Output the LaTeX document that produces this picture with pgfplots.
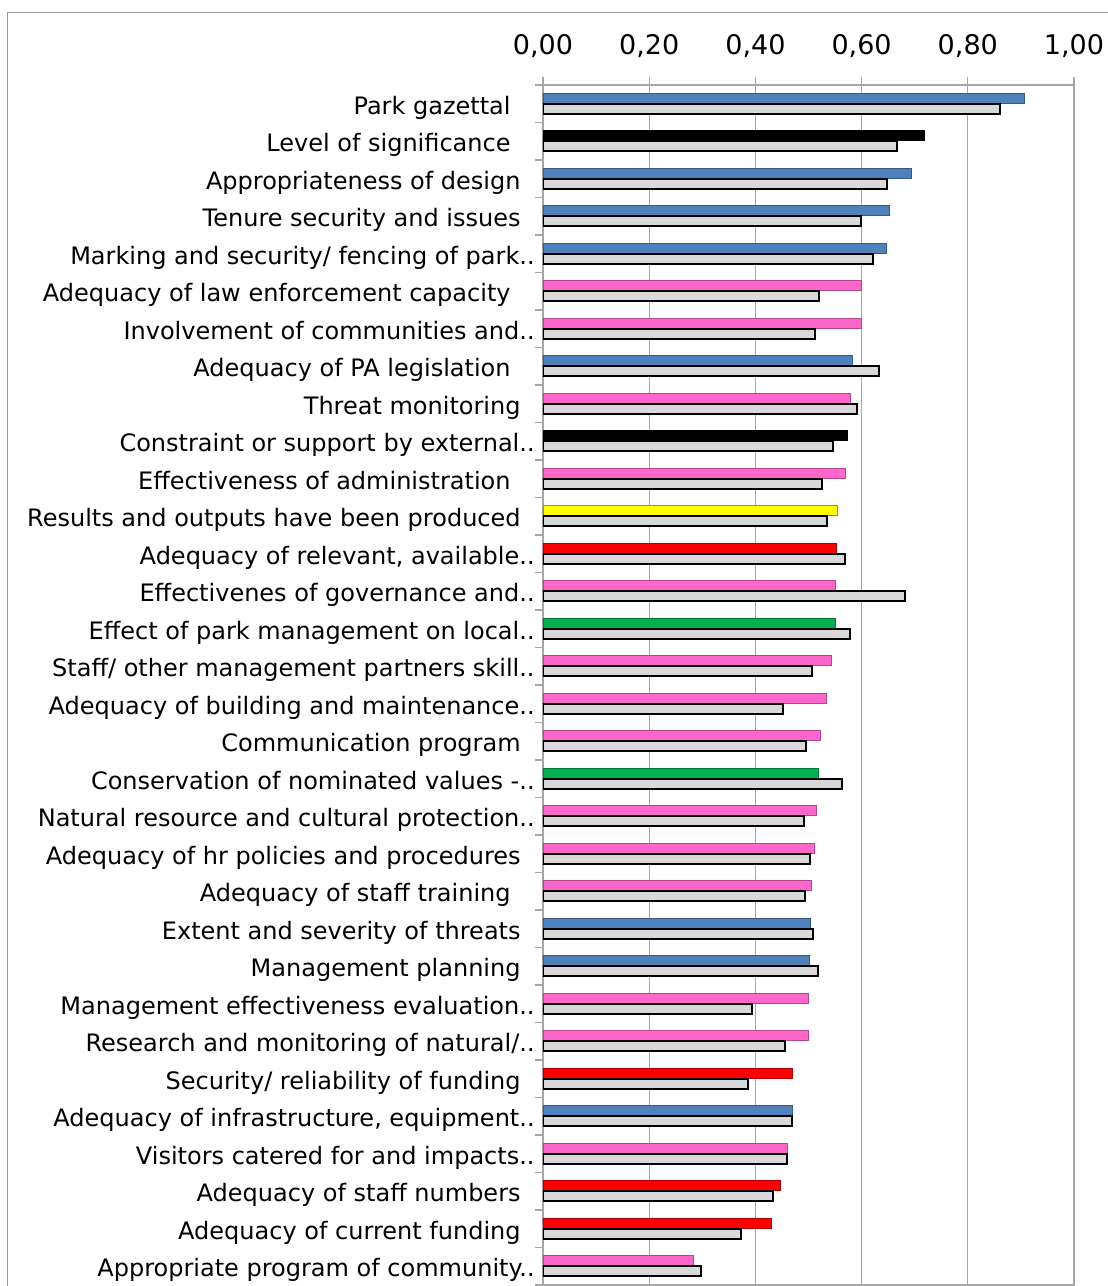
\documentclass[border=0pt]{standalone}
\usepackage{fontspec}
\setmainfont{DejaVu Sans}
\usepackage{pgfplots}
\pgfplotsset{compat=1.18}
\definecolor{cblue}{HTML}{4F81BD}
\definecolor{cpink}{HTML}{FF66CC}
\definecolor{cred}{HTML}{FF0000}
\definecolor{cyellow}{HTML}{FFFF00}
\definecolor{cgreen}{HTML}{00B050}
\definecolor{cgrayfill}{HTML}{D9D9D9}
\definecolor{gridc}{HTML}{A6A6A6}
\newcommand\pa{\rule{7pt}{0pt}}
\newcommand\pb{\rule{12pt}{0pt}}
\begin{document}
\begin{tikzpicture}
\path[use as bounding box] (0,0) rectangle (554pt,-643pt);
\draw[color=gray!80, line width=0.8pt] (3.65pt,-660pt) -- (3.65pt,-6.25pt) -- (570pt,-6.25pt);
\begin{axis}[
  at={(271.5pt,-42.5pt)}, anchor=north west,
  scale only axis, width=265.5pt, height=600pt,
  xbar, bar width=5pt,
  xmin=0, xmax=1, ymin=-0.5, ymax=31.5, y dir=reverse,
  xtick={0,0.2,0.4,0.6,0.8,1},
  xtick pos=upper, xticklabel pos=upper,
  ytick pos=left,
  tick align=outside,
  major tick length=4pt, minor tick length=4pt,
  xmajorgrids,
  major x grid style={gridc, line width=0.6pt},
  x tick style={gridc, line width=0.6pt},
  major y tick style={draw=none},
  minor y tick style={gridc, line width=0.6pt},
  axis line style={gridc, line width=0.6pt},
  ytick={0,...,31},
  minor ytick={-0.5,0.5,...,31.5},
  yticklabels={
    Park gazettal\pb,
    Level of significance\pb,
    Appropriateness of design\pa,
    Tenure security and issues\pa,
    Marking and security/ fencing of park..,
    Adequacy of law enforcement capacity\pb,
    Involvement of communities and..,
    Adequacy of PA legislation\pb,
    Threat monitoring\pa,
    Constraint or support by external..,
    Effectiveness of administration\pb,
    Results and outputs have been produced\pa,
    {Adequacy of relevant, available..},
    Effectivenes of governance and..,
    Effect of park management on local..,
    Staff/ other management partners skill..,
    Adequacy of building and maintenance..,
    Communication program\pa,
    Conservation of nominated values -..,
    Natural resource and cultural protection..,
    Adequacy of hr policies and procedures\pa,
    Adequacy of staff training\pb,
    Extent and severity of threats\pa,
    Management planning\pa,
    Management effectiveness evaluation..,
    Research and monitoring of natural/..,
    Security/ reliability of funding\pa,
    {Adequacy of infrastructure, equipment..},
    Visitors catered for and impacts..,
    Adequacy of staff numbers\pa,
    Adequacy of current funding\pa,
    Appropriate program of community..},
  yticklabel style={font=\fontsize{12}{14}\selectfont, anchor=base east, inner sep=0pt, yshift=-5.2pt},
  xticklabel style={font=\fontsize{13.5}{15}\selectfont, anchor=base, inner sep=0pt, yshift=11.5pt},
  /pgf/number format/.cd, fixed, fixed zerofill, precision=2, use comma, assume math mode=true,
]
\addplot[fill=cblue, draw=cblue!70!black, line width=0.4pt, bar shift=2.75pt] coordinates {
(0.907,0) (0.693,2) (0.653,3) (0.647,4) (0.582,7) (0.504,22) (0.501,23) (0.470,27)};
\addplot[fill=black, draw=black, line width=0.4pt, bar shift=2.75pt] coordinates {
(0.719,1) (0.574,9)};
\addplot[fill=cpink, draw=cpink!70!black, line width=0.4pt, bar shift=2.75pt] coordinates {
(0.599,5) (0.599,6) (0.579,8) (0.569,10) (0.550,13) (0.543,15) (0.533,16) (0.523,17) (0.514,19) (0.511,20) (0.506,21) (0.499,24) (0.499,25) (0.460,28) (0.284,31)};
\addplot[fill=cyellow, draw=cyellow!60!black, line width=0.4pt, bar shift=2.75pt] coordinates {
(0.555,11)};
\addplot[fill=cred, draw=cred!70!black, line width=0.4pt, bar shift=2.75pt] coordinates {
(0.552,12) (0.470,26) (0.448,29) (0.430,30)};
\addplot[fill=cgreen, draw=cgreen!70!black, line width=0.4pt, bar shift=2.75pt] coordinates {
(0.550,14) (0.518,18)};
\addplot[fill=cgrayfill, draw=black, line width=1pt, bar shift=-2.5pt] coordinates {
(0.861,0) (0.666,1) (0.648,2) (0.599,3) (0.622,4) (0.520,5) (0.513,6) (0.632,7)
(0.591,8) (0.547,9) (0.525,10) (0.535,11) (0.568,12) (0.682,13) (0.578,14) (0.506,15)
(0.452,16) (0.496,17) (0.563,18) (0.491,19) (0.503,20) (0.493,21) (0.508,22) (0.518,23)
(0.394,24) (0.455,25) (0.387,26) (0.469,27) (0.459,28) (0.433,29) (0.372,30) (0.297,31)};
\end{axis}
\end{tikzpicture}
\end{document}
